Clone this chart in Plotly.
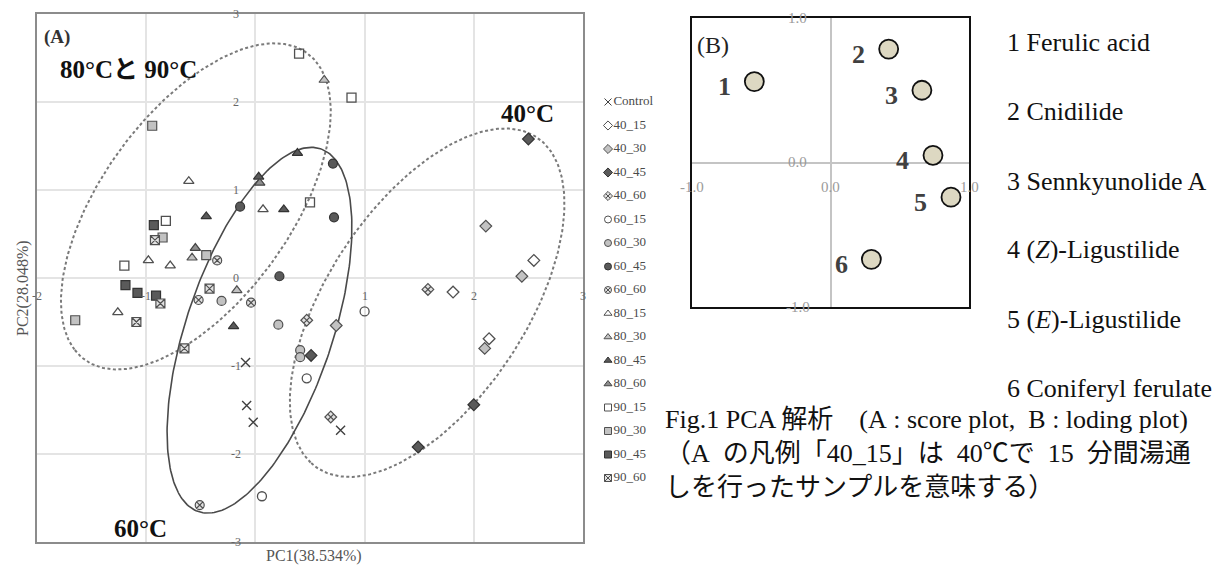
import numpy as np
import plotly.graph_objects as go

W, H = 1220, 568
SERIF = "Liberation Serif, Noto Sans CJK JP, serif"

# ---------------- Score plot (A) data ----------------
control_pc1 = [-0.09, -0.08, -0.02, 0.78]
control_pc2 = [-0.96, -1.45, -1.64, -1.73]
t40_15_pc1 = [2.55, 1.81, 2.14]
t40_15_pc2 = [0.20, -0.16, -0.69]
t40_30_pc1 = [2.11, 2.44, 2.10, 0.74]
t40_30_pc2 = [0.59, 0.02, -0.80, -0.54]
t40_45_pc1 = [2.50, 2.00, 1.49, 0.51]
t40_45_pc2 = [1.58, -1.44, -1.92, -0.88]
t40_60_pc1 = [1.58, 0.47, 0.69]
t40_60_pc2 = [-0.13, -0.48, -1.58]
t60_15_pc1 = [1.00, 0.47, 0.06]
t60_15_pc2 = [-0.38, -1.14, -2.48]
t60_30_pc1 = [0.41, 0.41, 0.21, -0.31]
t60_30_pc2 = [-0.82, -0.90, -0.53, -0.26]
t60_45_pc1 = [0.71, 0.72, 0.22, -0.14]
t60_45_pc2 = [1.30, 0.69, 0.02, 0.81]
t60_60_pc1 = [-0.52, -0.04, -0.51, -0.35]
t60_60_pc2 = [-0.25, -0.28, -2.58, 0.20]
t80_15_pc1 = [-0.61, 0.07, -0.98, -0.78, -1.26]
t80_15_pc2 = [1.10, 0.78, 0.20, 0.14, -0.39]
t80_30_pc1 = [0.63, -0.58, -0.17]
t80_30_pc2 = [2.25, 0.23, -0.14]
t80_45_pc1 = [0.385, 0.26, -0.45, -0.20, 0.03]
t80_45_pc2 = [1.42, 0.78, 0.70, -0.55, 1.15]
t80_60_pc1 = [0.04, -0.55]
t80_60_pc2 = [1.08, 0.34]
t90_15_pc1 = [0.40, 0.88, 0.50, -0.82, -1.20]
t90_15_pc2 = [2.55, 2.05, 0.86, 0.65, 0.14]
t90_30_pc1 = [-0.945, -0.85, -0.45, -1.65]
t90_30_pc2 = [1.73, 0.46, 0.26, -0.48]
t90_45_pc1 = [-0.93, -1.19, -1.08, -0.91]
t90_45_pc2 = [0.60, -0.08, -0.17, -0.20]
t90_60_pc1 = [-0.92, -0.87, -1.09, -0.65, -0.42]
t90_60_pc2 = [0.43, -0.29, -0.50, -0.80, -0.12]

group_names = ["Control", "40_15", "40_30", "40_45", "40_60", "60_15", "60_30", "60_45", "60_60",
               "80_15", "80_30", "80_45", "80_60", "90_15", "90_30", "90_45", "90_60"]
group_pc1 = [control_pc1, t40_15_pc1, t40_30_pc1, t40_45_pc1, t40_60_pc1, t60_15_pc1, t60_30_pc1,
             t60_45_pc1, t60_60_pc1, t80_15_pc1, t80_30_pc1, t80_45_pc1, t80_60_pc1, t90_15_pc1,
             t90_30_pc1, t90_45_pc1, t90_60_pc1]
group_pc2 = [control_pc2, t40_15_pc2, t40_30_pc2, t40_45_pc2, t40_60_pc2, t60_15_pc2, t60_30_pc2,
             t60_45_pc2, t60_60_pc2, t80_15_pc2, t80_30_pc2, t80_45_pc2, t80_60_pc2, t90_15_pc2,
             t90_30_pc2, t90_45_pc2, t90_60_pc2]

# outline readings of the three grouping ellipses
ell_8090_pc1 = [0.20, 0.57, 0.69, 0.66, 0.63, 0.00, -0.13, -0.65, -0.96, -1.27, -1.62, -1.76, -1.72,
                -1.48, -1.27, -0.945, -0.56, -0.10]
ell_8090_pc2 = [2.67, 2.50, 2.06, 1.57, 1.38, -0.02, -0.25, -0.80, -0.99, -1.05, -0.86, -0.40, 0.01,
                1.04, 1.57, 1.73, 2.29, 2.59]
ell_60_pc1 = [0.385, 0.51, 0.66, 0.905, 0.84, 0.72, 0.66, 0.34, -0.04, -0.44, -0.65, -0.79, -0.81,
              -0.69, -0.52, -0.14, 0.02]
ell_60_pc2 = [1.42, 1.47, 1.42, 0.60, -0.14, -0.55, -0.89, -1.75, -2.49, -2.64, -2.49, -2.14, -1.54,
              -0.78, -0.02, 0.81, 1.15]
ell_40_pc1 = [2.19, 2.50, 2.74, 2.82, 2.80, 2.71, 2.50, 2.00, 1.49, 0.905, 0.66, 0.385, 0.32, 0.45,
              0.54, 0.72, 1.03, 1.12, 1.58]
ell_40_pc2 = [1.68, 1.63, 1.34, 0.89, 0.43, -0.06, -0.52, -1.44, -1.92, -2.30, -2.26, -1.73, -1.16,
              -0.48, -0.25, 0.01, 0.77, 0.81, 1.38]

A_xticks = [-2, -1, 1, 2, 3]
A_yticks = [3, 2, 1, 0, -1, -2, -3]

# ---------------- Loading plot (B) data ----------------
load_pc1 = [-0.55, 0.42, 0.66, 0.74, 0.87, 0.295]
load_pc2 = [0.56, 0.785, 0.50, 0.05, -0.24, -0.67]
load_ids = ["1", "2", "3", "4", "5", "6"]
compounds = ["1 Ferulic acid", "2 Cnidilide", "3 Sennkyunolide A", "4 (<i>Z</i>)-Ligustilide",
             "5 (<i>E</i>)-Ligustilide", "6 Coniferyl ferulate"]
B_ticks = [-1.0, 0.0, 1.0]

NB = "\u00a0"
caption = ["Fig.1 PCA 解析\u3000(A" + NB + ":" + NB + "score plot," + NB + NB + "B" + NB + ":" + NB + "loding plot)",
           "（A" + NB + " の凡例「40_15」は" + NB + " 40℃で" + NB + " 15" + NB + " 分間湯通",
           "しを行ったサンプルを意味する）"]


# ---------------- styles ----------------
def style(name):
    if name == "Control":
        return dict(symbol="x-thin-open", color="#404040", line=dict(color="#404040", width=1.4))
    temp, minutes = name.split("_")
    base = {"40": "diamond", "60": "circle", "80": "triangle-up", "90": "square"}[temp]
    if minutes == "15":
        return dict(symbol=base + "-open", color="#505050", line=dict(color="#505050", width=1.3))
    if minutes == "30":
        return dict(symbol=base, color="#c2c2c2", line=dict(color="#505050", width=1.2))
    if minutes == "45":
        return dict(symbol=base, color="#5a5a5a", line=dict(color="#333333", width=1.2))
    if base == "triangle-up":
        return dict(symbol=base, color="#8e8e8e", line=dict(color="#444444", width=1.2))
    return dict(symbol=base + "-x", color="#e2e2e2", line=dict(color="#505050", width=1.2))


def fit_ellipse(px, py, n=260):
    x = np.asarray(px, float)
    y = np.asarray(py, float)
    mx, my, sx, sy = x.mean(), y.mean(), x.std(), y.std()
    xn, yn = (x - mx) / sx, (y - my) / sy
    D = np.column_stack([xn ** 2, xn * yn, yn ** 2, xn, yn, np.ones_like(xn)])
    _, _, Vt = np.linalg.svd(D)
    a, b, c, d, e, f = Vt[-1]
    x0, y0 = np.linalg.solve([[2 * a, b], [b, 2 * c]], [-d, -e])
    f0 = a * x0 ** 2 + b * x0 * y0 + c * y0 ** 2 + d * x0 + e * y0 + f
    w, V = np.linalg.eigh(np.array([[a, b / 2], [b / 2, c]]))
    r = np.sqrt(np.abs(f0 / w))
    t = np.linspace(0, 2 * np.pi, n)
    pts = np.array([x0, y0])[:, None] + V @ np.vstack([r[0] * np.cos(t), r[1] * np.sin(t)])
    return pts[0] * sx + mx, pts[1] * sy + my


fig = go.Figure()

# ellipses
for ex, ey, dash, col, wd in [(ell_8090_pc1, ell_8090_pc2, "3px,2.5px", "#7a7a7a", 2),
                              (ell_40_pc1, ell_40_pc2, "3px,2.5px", "#7a7a7a", 2),
                              (ell_60_pc1, ell_60_pc2, "solid", "#4a4a4a", 1.6)]:
    cx, cy = fit_ellipse(ex, ey)
    fig.add_trace(go.Scatter(x=cx, y=cy, mode="lines", line=dict(color=col, width=wd, dash=dash),
                             hoverinfo="skip", showlegend=False, xaxis="x", yaxis="y"))

# score points
for name, xs, ys in zip(group_names, group_pc1, group_pc2):
    st = style(name)
    fig.add_trace(go.Scatter(x=xs, y=ys, mode="markers", name=name, showlegend=False,
                             marker=dict(size=9, **st), xaxis="x", yaxis="y"))

# legend of the score plot (drawn as its own small panel)
leg_styles = [style(n) for n in group_names]
fig.add_trace(go.Scatter(
    x=[0.1] * len(group_names), y=list(range(len(group_names))), mode="markers+text",
    text=group_names, textposition="middle right",
    textfont=dict(family=SERIF, size=13, color="#4a4a4a"),
    marker=dict(size=7, symbol=[s["symbol"] for s in leg_styles], color=[s["color"] for s in leg_styles],
                line=dict(color=[s["line"]["color"] for s in leg_styles], width=1)),
    showlegend=False, hoverinfo="skip", cliponaxis=False, xaxis="x3", yaxis="y3"))

# loading points
fig.add_trace(go.Scatter(x=load_pc1, y=load_pc2, mode="markers", showlegend=False,
                         marker=dict(size=19, color="#ddd8c2", line=dict(color="#111111", width=1.8)),
                         xaxis="x2", yaxis="y2"))


def paper_text(txt, px, py, size, color="#111", xanchor="center", angle=0):
    return dict(x=px / W, y=1 - py / H, xref="paper", yref="paper", text=txt, showarrow=False,
                xanchor=xanchor, yanchor="middle", textangle=angle,
                font=dict(family=SERIF, size=size, color=color))


ann = []
# A tick labels along the centre axes
for v in A_yticks:
    ann.append(dict(x=-0.18, y=v, xref="x", yref="y", text=str(v), showarrow=False,
                    xanchor="center", yanchor="middle", font=dict(family=SERIF, size=12, color="#666")))
for v in A_xticks:
    ann.append(dict(x=v, y=-0.2, xref="x", yref="y", text=str(v), showarrow=False,
                    xanchor="center", yanchor="middle", font=dict(family=SERIF, size=12, color="#666")))
ann.append(paper_text("PC1(38.534%)", 314, 556, 16, "#555"))
ann.append(paper_text("PC2(28.048%)", 23, 288, 16, "#555", angle=-90))
ann.append(paper_text("<b>(A)</b>", 57, 37, 19, "#333"))
ann.append(paper_text("<b>80°Cと 90°C</b>", 128, 70, 25))
ann.append(paper_text("<b>40°C</b>", 527, 113, 25))
ann.append(paper_text("<b>60°C</b>", 140, 528, 25))

# B labels
for i, lab in enumerate(load_ids):
    ann.append(dict(x=load_pc1[i], y=load_pc2[i], xref="x2", yref="y2", text="<b>" + lab + "</b>",
                    showarrow=False, xshift=-30, yshift=-5, xanchor="center", yanchor="middle",
                    font=dict(family=SERIF, size=26, color="#404040")))
for v in B_ticks:
    ann.append(dict(x=-0.235, y=v, xref="x2", yref="y2", text=f"{v:.1f}", showarrow=False,
                    xanchor="center", yanchor="middle", font=dict(family=SERIF, size=15, color="#9a9a9a")))
    ann.append(dict(x=v, y=-0.17, xref="x2", yref="y2", text=f"{v:.1f}", showarrow=False,
                    xanchor="center", yanchor="middle", font=dict(family=SERIF, size=15, color="#9a9a9a")))
ann.append(paper_text("(B)", 713, 45, 24, "#222"))

for i, txt in enumerate(compounds):
    ann.append(paper_text(txt, 1005, 43 + 69 * i, 26, xanchor="left"))
for i, txt in enumerate(caption):
    ann.append(paper_text(txt, 663, 419 + 34 * i, 26, xanchor="left"))

axA = dict(showgrid=True, gridcolor="#e4e4e4", gridwidth=1.5, dtick=1, tick0=0, showticklabels=False,
           ticks="", zeroline=False, showline=True, linecolor="#8c8c8c", linewidth=2, mirror=True)
axB = dict(showgrid=False, zeroline=True, zerolinecolor="#c4c4c4", zerolinewidth=2, showticklabels=False,
           ticks="", showline=True, linecolor="#111", linewidth=2, mirror=True, range=[-1, 1])

fig.update_layout(
    width=W, height=H, margin=dict(l=0, r=0, t=0, b=0),
    paper_bgcolor="white", plot_bgcolor="white", showlegend=False,
    xaxis=dict(domain=[37 / W, 583 / W], range=[-2, 3], anchor="y", **axA),
    yaxis=dict(domain=[1 - 542 / H, 1 - 14 / H], range=[-3, 3], anchor="x", **axA),
    xaxis2=dict(domain=[692 / W, 969 / W], anchor="y2", **axB),
    yaxis2=dict(domain=[1 - 307 / H, 1 - 18 / H], anchor="x2", **axB),
    xaxis3=dict(domain=[600 / W, 680 / W], range=[0, 1], visible=False, anchor="y3"),
    yaxis3=dict(domain=[1 - 490 / H, 1 - 90 / H], range=[16.51, -0.51], visible=False, anchor="x3"),
    annotations=ann,
)

fig.write_html("out.html", config={"displayModeBar": False},
               post_script="document.body.style.margin='0px';document.body.style.padding='0px';"
                           "document.body.style.overflow='hidden';")
